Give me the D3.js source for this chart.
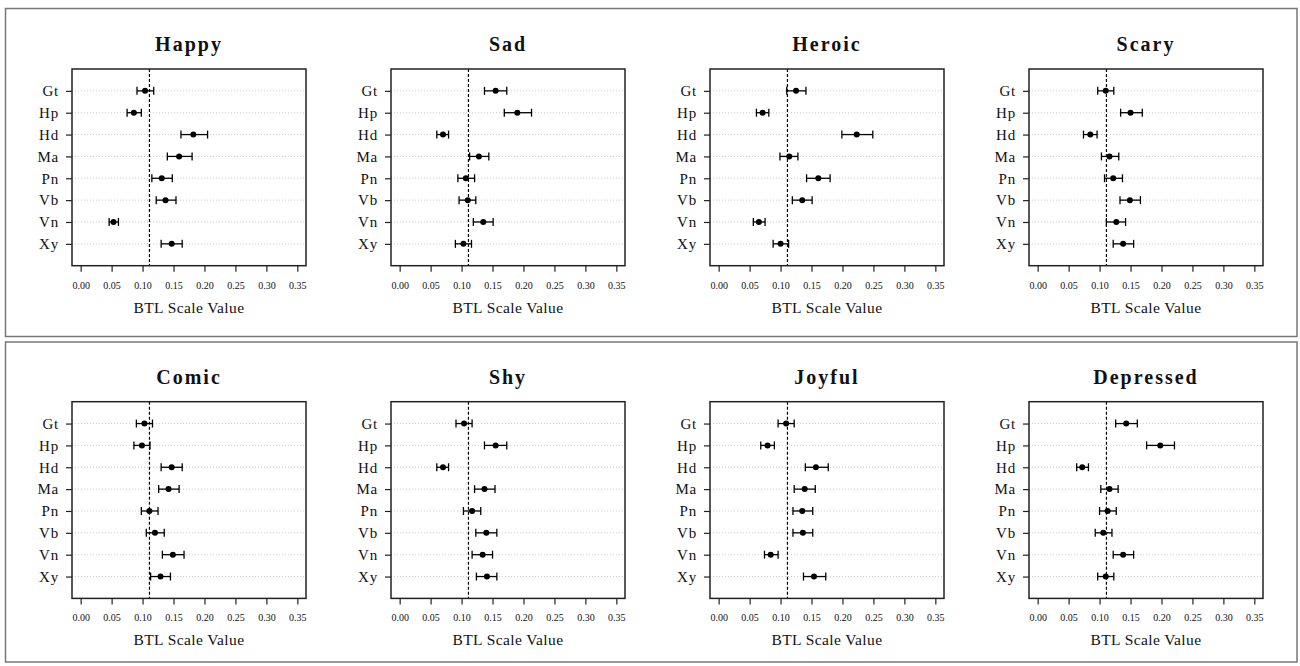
<!DOCTYPE html>
<html>
<head>
<meta charset="utf-8">
<script src="https://cdn.jsdelivr.net/npm/d3@7"></script>
<style>
  body { margin: 0; background: #fff; }
  svg { display: block; }
</style>
</head>
<body>
<svg id="chart" width="1300" height="666"></svg>
<script>
// ---- data ----
const categories = ["Gt", "Hp", "Hd", "Ma", "Pn", "Vb", "Vn", "Xy"];
const panelTitles = ["Happy", "Sad", "Heroic", "Scary", "Comic", "Shy", "Joyful", "Depressed"];
const xTicks = [0.00, 0.05, 0.10, 0.15, 0.20, 0.25, 0.30, 0.35];
const xLabel = "BTL Scale Value";
const reference = 1 / 9;
// each row: [estimate, lower, upper]
const happy = [[0.104,0.091,0.118],[0.086,0.075,0.098],[0.182,0.162,0.205],[0.159,0.140,0.180],[0.131,0.115,0.148],[0.137,0.122,0.154],[0.053,0.046,0.061],[0.147,0.130,0.164]];
const sad = [[0.155,0.137,0.173],[0.190,0.169,0.213],[0.070,0.060,0.079],[0.128,0.113,0.144],[0.107,0.094,0.121],[0.110,0.096,0.123],[0.135,0.119,0.151],[0.103,0.090,0.116]];
const heroic = [[0.125,0.110,0.141],[0.071,0.061,0.081],[0.223,0.199,0.249],[0.114,0.099,0.128],[0.161,0.142,0.180],[0.135,0.119,0.151],[0.065,0.056,0.075],[0.100,0.088,0.113]];
const scary = [[0.110,0.097,0.123],[0.150,0.134,0.169],[0.085,0.074,0.096],[0.116,0.103,0.131],[0.122,0.108,0.137],[0.149,0.133,0.166],[0.127,0.111,0.142],[0.138,0.122,0.155]];
const comic = [[0.103,0.090,0.116],[0.099,0.086,0.112],[0.147,0.130,0.164],[0.142,0.126,0.159],[0.111,0.098,0.125],[0.120,0.106,0.135],[0.149,0.132,0.167],[0.129,0.113,0.145]];
const shy = [[0.104,0.091,0.117],[0.155,0.137,0.173],[0.070,0.060,0.079],[0.137,0.121,0.154],[0.117,0.103,0.131],[0.140,0.123,0.157],[0.134,0.117,0.150],[0.141,0.124,0.157]];
const joyful = [[0.109,0.096,0.122],[0.079,0.068,0.090],[0.157,0.140,0.177],[0.139,0.122,0.156],[0.135,0.120,0.152],[0.136,0.120,0.152],[0.084,0.074,0.096],[0.154,0.137,0.173]];
const depressed = [[0.143,0.126,0.161],[0.198,0.176,0.221],[0.072,0.063,0.082],[0.116,0.102,0.130],[0.113,0.100,0.127],[0.106,0.093,0.120],[0.138,0.122,0.155],[0.110,0.097,0.123]];
const panelData = [happy, sad, heroic, scary, comic, shy, joyful, depressed];

// ---- layout ----
const svg = d3.select("#chart");
const serif = "Liberation Serif";

// row frames
svg.append("rect").attr("x", 5.5).attr("y", 8.5).attr("width", 1291.5).attr("height", 328)
  .attr("fill", "none").attr("stroke", "#777").attr("stroke-width", 1.5);
svg.append("rect").attr("x", 5.5).attr("y", 342).attr("width", 1291.5).attr("height", 320)
  .attr("fill", "none").attr("stroke", "#777").attr("stroke-width", 1.5);

const boxW = 234, boxH = 196.7;
const colLeft = [72, 391, 710, 1029];
const rowTop = [69, 401.7];

panelData.forEach((data, i) => {
  const left = colLeft[i % 4], top = rowTop[Math.floor(i / 4)];
  const g = svg.append("g").attr("transform", `translate(${left},${top})`);
  const x = d3.scaleLinear().domain([-0.014, 0.364]).range([0, boxW]);
  const y = d3.scaleLinear().domain([0, 9]).range([0, boxH]);

  // gridlines
  g.selectAll("line.grid").data(categories).enter().append("line")
    .attr("x1", 0).attr("x2", boxW)
    .attr("y1", (d, k) => y(k + 1)).attr("y2", (d, k) => y(k + 1))
    .attr("stroke", "#bbb").attr("stroke-width", 0.8).attr("stroke-dasharray", "1,2");

  // reference dashed line
  g.append("line").attr("x1", x(reference)).attr("x2", x(reference))
    .attr("y1", 0).attr("y2", boxH)
    .attr("stroke", "#000").attr("stroke-width", 1.2).attr("stroke-dasharray", "3,2");

  // error bars
  const rows = g.selectAll("g.err").data(data).enter().append("g");
  rows.append("line")
    .attr("x1", d => x(d[1])).attr("x2", d => x(d[2]))
    .attr("y1", (d, k) => y(k + 1)).attr("y2", (d, k) => y(k + 1))
    .attr("stroke", "#000").attr("stroke-width", 1.3);
  rows.append("line")
    .attr("x1", d => x(d[1])).attr("x2", d => x(d[1]))
    .attr("y1", (d, k) => y(k + 1) - 4).attr("y2", (d, k) => y(k + 1) + 4)
    .attr("stroke", "#000").attr("stroke-width", 1.3);
  rows.append("line")
    .attr("x1", d => x(d[2])).attr("x2", d => x(d[2]))
    .attr("y1", (d, k) => y(k + 1) - 4).attr("y2", (d, k) => y(k + 1) + 4)
    .attr("stroke", "#000").attr("stroke-width", 1.3);
  rows.append("circle")
    .attr("cx", d => x(d[0])).attr("cy", (d, k) => y(k + 1)).attr("r", 3)
    .attr("fill", "#000");

  // box
  g.append("rect").attr("x", 0).attr("y", 0).attr("width", boxW).attr("height", boxH)
    .attr("fill", "none").attr("stroke", "#222").attr("stroke-width", 1.5);

  // x axis
  const xAxis = d3.axisBottom(x).tickValues(xTicks).tickFormat(d3.format(".2f"))
    .tickSize(6).tickPadding(10);
  const ax = g.append("g").attr("transform", `translate(0,${boxH})`).call(xAxis)
    .attr("font-family", serif);
  ax.select(".domain").remove();
  ax.selectAll(".tick line").attr("stroke", "#222").attr("stroke-width", 1.2);
  ax.selectAll(".tick text").attr("font-family", serif).attr("font-size", 10).attr("fill", "#111");

  // y axis
  const yAxis = d3.axisLeft(d3.scalePoint().domain(categories).range([y(1), y(8)]))
    .tickSize(6).tickPadding(7);
  const ay = g.append("g").call(yAxis).attr("font-family", serif);
  ay.select(".domain").remove();
  ay.selectAll(".tick line").attr("stroke", "#222").attr("stroke-width", 1.2);
  ay.selectAll(".tick text").attr("font-family", serif).attr("font-size", 15)
    .attr("letter-spacing", 0.8).attr("fill", "#111");

  // axis label
  g.append("text").attr("x", boxW / 2).attr("y", boxH + 47)
    .attr("text-anchor", "middle").attr("font-family", serif).attr("font-size", 15.5)
    .attr("letter-spacing", 0.4).attr("fill", "#111").text(xLabel);

  // title
  g.append("text").attr("x", boxW / 2).attr("y", -18)
    .attr("text-anchor", "middle").attr("font-family", serif).attr("font-size", 20)
    .attr("font-weight", "bold").attr("letter-spacing", 2).attr("fill", "#111")
    .text(panelTitles[i]);
});
</script>
</body>
</html>
